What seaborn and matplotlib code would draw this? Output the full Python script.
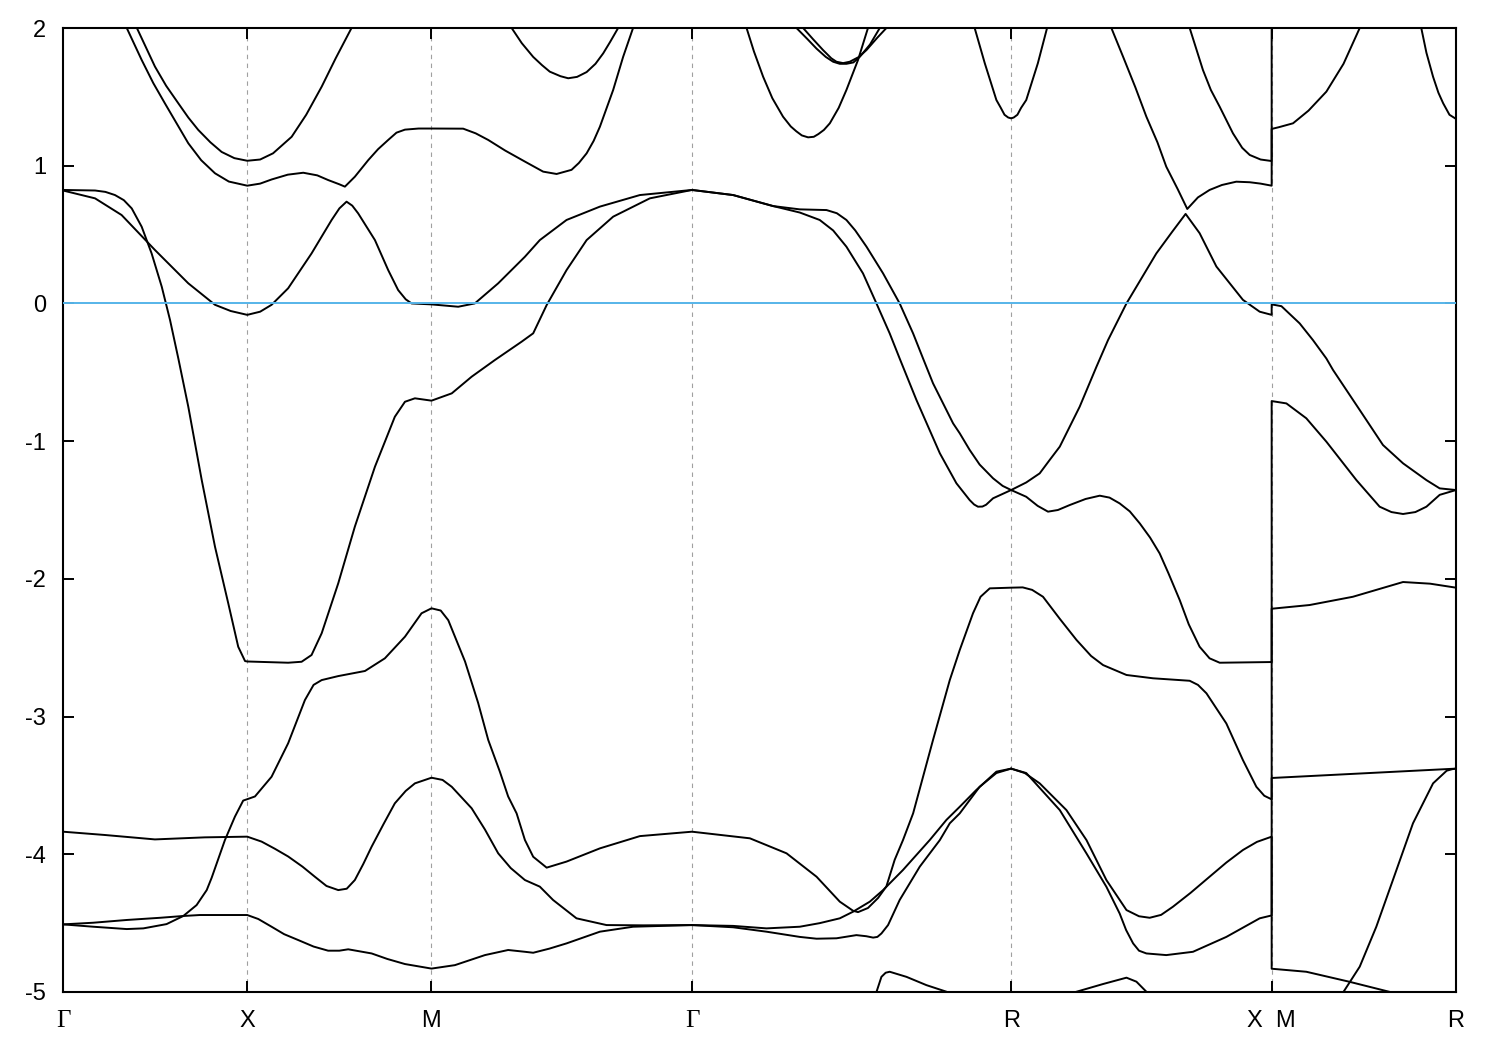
import numpy as np
import pandas as pd
import matplotlib
matplotlib.use("Agg")
import matplotlib.pyplot as plt
import seaborn as sns

# ---------------- high-symmetry path ----------------
kpath_labels = ["Γ", "X", "M", "Γ", "R", "X  M", "R"]
kpath_pos = [0.0, 1.0, 2.0, 3.414, 5.146, 6.560, 7.5605]
energy_ticks = [2, 1, 0, -1, -2, -3, -4, -5]
fermi_level = 0.0

# ---------------- band curves (k, E in eV) ----------------
b01_k = [0.401, 0.45, 0.499, 0.56, 0.626, 0.68, 0.734, 0.80, 0.861, 0.93, 1.0, 1.07, 1.14, 1.241, 1.32, 1.404, 1.48, 1.566]
b01_e = [2.0, 1.86, 1.72, 1.58, 1.453, 1.35, 1.26, 1.17, 1.10, 1.055, 1.036, 1.045, 1.09, 1.21, 1.37, 1.574, 1.78, 2.0]

b02_k = [0.346, 0.427, 0.49, 0.553, 0.62, 0.680, 0.75, 0.825, 0.9, 1.0, 1.07, 1.132, 1.22, 1.304, 1.38, 1.439, 1.50, 1.530,
         1.584, 1.657, 1.71, 1.765, 1.81, 1.856, 1.93, 2.0, 2.172, 2.24, 2.308, 2.40, 2.507, 2.606, 2.679, 2.760, 2.80, 2.842,
         2.88, 2.914, 2.986, 3.040, 3.094]
b02_e = [2.0, 1.768, 1.60, 1.453, 1.30, 1.163, 1.04, 0.945, 0.885, 0.855, 0.87, 0.90, 0.935, 0.949, 0.93, 0.896, 0.865, 0.848,
         0.92, 1.041, 1.12, 1.187, 1.24, 1.262, 1.27, 1.27, 1.269, 1.235, 1.187, 1.11, 1.03, 0.957, 0.94, 0.97, 1.02, 1.09,
         1.18, 1.283, 1.55, 1.79, 2.0]

b03_k = [2.435, 2.49, 2.552, 2.60, 2.642, 2.70, 2.742, 2.79, 2.842, 2.89, 2.932, 2.97, 3.013]
b03_e = [2.0, 1.89, 1.79, 1.73, 1.683, 1.65, 1.635, 1.645, 1.68, 1.74, 1.816, 1.90, 2.0]

b04_k = [3.710, 3.75, 3.800, 3.85, 3.908, 3.95, 3.98, 4.01, 4.044, 4.075, 4.10, 4.13, 4.162, 4.21, 4.252, 4.315, 4.369]
b04_e = [2.0, 1.83, 1.646, 1.49, 1.356, 1.285, 1.25, 1.22, 1.206, 1.21, 1.23, 1.26, 1.308, 1.42, 1.55, 1.768, 2.0]

b05_k = [3.981, 4.04, 4.090, 4.14, 4.180, 4.216, 4.252, 4.29, 4.324, 4.38, 4.433]
b05_e = [2.0, 1.92, 1.85, 1.79, 1.755, 1.74, 1.74, 1.75, 1.79, 1.88, 2.0]

b06_k = [4.017, 4.07, 4.125, 4.17, 4.198, 4.234, 4.270, 4.32, 4.361, 4.42, 4.469]
b06_e = [2.0, 1.92, 1.84, 1.78, 1.755, 1.745, 1.755, 1.79, 1.84, 1.93, 2.0]

b07_k = [4.948, 5.003, 5.066, 5.09, 5.11, 5.13, 5.146, 5.16, 5.18, 5.20, 5.228, 5.291, 5.341]
b07_e = [2.0, 1.744, 1.477, 1.42, 1.37, 1.35, 1.344, 1.35, 1.37, 1.42, 1.477, 1.744, 2.0]

b08_k = [5.690, 5.754, 5.82, 5.880, 5.94, 5.988, 6.05, 6.102, 6.16, 6.223, 6.29, 6.368, 6.441, 6.50, 6.560,
         6.560, 6.60, 6.676, 6.76, 6.857, 6.95, 7.038]
b08_e = [2.0, 1.79, 1.57, 1.356, 1.17, 0.993, 0.83, 0.686, 0.77, 0.824, 0.86, 0.884, 0.88, 0.87, 0.855,
         1.267, 1.28, 1.308, 1.40, 1.538, 1.74, 2.0]

b09_k = [6.115, 6.187, 6.23, 6.278, 6.350, 6.40, 6.441, 6.50, 6.560, 6.560]
b09_e = [2.0, 1.695, 1.55, 1.428, 1.235, 1.13, 1.078, 1.045, 1.034, 2.1]

b10_k = [7.372, 7.40, 7.436, 7.465, 7.491, 7.525, 7.5605]
b10_e = [2.0, 1.82, 1.646, 1.53, 1.453, 1.37, 1.34]

b11_k = [0.0, 0.174, 0.23, 0.282, 0.33, 0.373, 0.427, 0.481, 0.536, 0.581, 0.626, 0.680, 0.753, 0.825, 0.897, 0.951, 0.988, 1.0,
         1.222, 1.295, 1.349, 1.404, 1.494, 1.584, 1.693, 1.801, 1.856, 1.910, 2.0, 2.110, 2.218, 2.344, 2.489, 2.552,
         2.625, 2.733, 2.842, 2.986, 3.185, 3.414]
b11_e = [0.824, 0.82, 0.81, 0.787, 0.75, 0.69, 0.557, 0.363, 0.121, -0.121, -0.40, -0.75, -1.283, -1.767, -2.178, -2.493, -2.597, -2.60,
         -2.609, -2.602, -2.553, -2.395, -2.032, -1.621, -1.186, -0.823, -0.714, -0.689, -0.706, -0.653, -0.532, -0.411, -0.278, -0.217,
         -0.012, 0.242, 0.46, 0.63, 0.763, 0.824]

b12_k = [0.0, 0.174, 0.318, 0.499, 0.680, 0.825, 0.91, 1.0, 1.07, 1.132, 1.222, 1.349, 1.458, 1.50, 1.539, 1.57, 1.602, 1.693, 1.765,
         1.819, 1.86, 1.892, 2.0, 2.145, 2.235, 2.362, 2.507, 2.588, 2.733, 2.914, 3.131, 3.414]
b12_e = [0.82, 0.763, 0.642, 0.388, 0.146, -0.01, -0.055, -0.083, -0.06, -0.01, 0.11, 0.363, 0.606, 0.69, 0.739, 0.71, 0.654, 0.46, 0.242,
         0.097, 0.03, 0.0, -0.007, -0.024, 0.0, 0.146, 0.339, 0.46, 0.606, 0.703, 0.787, 0.824]

b13_k = [3.414, 3.637, 3.854, 3.999, 4.144, 4.20, 4.252, 4.30, 4.361, 4.451, 4.541, 4.614, 4.668, 4.722, 4.831, 4.867, 4.921, 4.975,
         5.048, 5.10, 5.146]
b13_e = [0.824, 0.787, 0.707, 0.683, 0.678, 0.655, 0.606, 0.53, 0.412, 0.218, 0.0, -0.218, -0.40, -0.58, -0.871, -0.943, -1.064, -1.17,
         -1.27, -1.325, -1.355]

b14_k = [3.414, 3.637, 3.854, 3.999, 4.107, 4.18, 4.252, 4.342, 4.415, 4.487, 4.541, 4.632, 4.759, 4.849, 4.921, 4.945, 4.966, 4.99, 5.01,
         5.048, 5.146]
b14_e = [0.824, 0.787, 0.707, 0.66, 0.606, 0.53, 0.412, 0.218, 0.0, -0.218, -0.40, -0.701, -1.088, -1.306, -1.428, -1.46, -1.476, -1.475, -1.462,
         -1.415, -1.355]

b15_k = [5.146, 5.228, 5.301, 5.355, 5.410, 5.518, 5.609, 5.672, 5.772, 5.934, 6.02, 6.093, 6.169, 6.260, 6.404, 6.495,
         6.560, 6.560, 6.613, 6.712, 6.784, 6.857, 6.893, 7.038, 7.164, 7.273, 7.400, 7.472, 7.5605]
b15_e = [-1.355, -1.30, -1.234, -1.137, -1.04, -0.75, -0.46, -0.266, 0.0, 0.363, 0.52, 0.65, 0.51, 0.268, 0.026, -0.06,
         -0.083, -0.007, -0.02, -0.145, -0.266, -0.40, -0.483, -0.774, -1.028, -1.161, -1.283, -1.343, -1.355]

b16_k = [5.146, 5.228, 5.29, 5.346, 5.40, 5.464, 5.55, 5.627, 5.68, 5.735, 5.79, 5.844, 5.90, 5.952, 6.00, 6.061, 6.11, 6.169, 6.223,
         6.278, 6.560, 6.560, 6.640, 6.748, 6.857, 7.020, 7.146, 7.21, 7.273, 7.34, 7.400, 7.472, 7.5605]
b16_e = [-1.355, -1.404, -1.47, -1.512, -1.50, -1.464, -1.42, -1.396, -1.41, -1.452, -1.51, -1.597, -1.70, -1.815, -1.96, -2.154, -2.33, -2.493, -2.577,
         -2.609, -2.604, -0.709, -0.726, -0.834, -1.004, -1.283, -1.476, -1.515, -1.529, -1.515, -1.476, -1.39, -1.355]

b17_k = [0.0, 0.164, 0.346, 0.436, 0.562, 0.653, 0.725, 0.780, 0.807, 0.879, 0.933, 0.978, 1.0, 1.042, 1.132, 1.222, 1.313,
         1.36, 1.404, 1.494, 1.639, 1.747, 1.856, 1.946, 2.0, 2.05, 2.091, 2.182, 2.253, 2.308, 2.371, 2.416, 2.462, 2.507, 2.552, 2.625,
         2.733, 2.914, 3.131, 3.414, 3.728, 3.927, 4.090, 4.216, 4.288, 4.315, 4.369, 4.424, 4.469, 4.514, 4.559, 4.614, 4.722,
         4.813, 4.867, 4.939, 4.98, 5.030, 5.146, 5.209, 5.26, 5.319, 5.41, 5.501, 5.58, 5.645, 5.772, 5.916, 6.115, 6.16, 6.206, 6.314, 6.404, 6.477,
         6.52, 6.560, 6.560, 6.766, 7.001, 7.273, 7.42, 7.5605]
b17_e = [-4.509, -4.526, -4.543, -4.538, -4.507, -4.448, -4.369, -4.26, -4.17, -3.896, -3.727, -3.61, -3.60, -3.58, -3.437, -3.194, -2.88,
         -2.77, -2.735, -2.706, -2.669, -2.577, -2.42, -2.25, -2.214, -2.23, -2.30, -2.60, -2.90, -3.17, -3.40, -3.58, -3.703, -3.896, -4.018, -4.097,
         -4.053, -3.957, -3.868, -3.836, -3.884, -3.993, -4.163, -4.344, -4.41, -4.42, -4.39, -4.317, -4.233, -4.04, -3.897, -3.703, -3.17,
         -2.735, -2.517, -2.25, -2.13, -2.069, -2.064, -2.062, -2.08, -2.13, -2.29, -2.444, -2.56, -2.626, -2.698, -2.722, -2.74, -2.77, -2.831, -3.05, -3.316, -3.51,
         -3.575, -3.601, -2.217, -2.19, -2.13, -2.023, -2.035, -2.064]

b18_k = [0.0, 0.164, 0.346, 0.528, 0.653, 0.743, 1.0, 1.06, 1.132, 1.20, 1.277, 1.36, 1.439, 1.50, 1.548, 1.675, 1.76, 1.856,
         2.0, 2.127, 2.290, 2.416, 2.507, 2.552, 2.64, 2.733, 2.914, 3.094, 3.414]
b18_e = [-4.509, -4.497, -4.477, -4.461, -4.448, -4.441, -4.441, -4.47, -4.526, -4.58, -4.623, -4.67, -4.70, -4.70, -4.69, -4.72, -4.76, -4.797,
         -4.83, -4.805, -4.732, -4.695, -4.708, -4.715, -4.685, -4.647, -4.562, -4.526, -4.514]

b19_k = [0.0, 0.228, 0.499, 0.770, 1.0, 1.078, 1.15, 1.222, 1.30, 1.367, 1.43, 1.494, 1.54, 1.584, 1.63, 1.675, 1.74, 1.801,
         1.86, 1.910, 2.0, 2.06, 2.110, 2.218, 2.29, 2.362, 2.43, 2.507, 2.588, 2.660, 2.787, 2.950, 3.15, 3.414]
b19_e = [-3.836, -3.86, -3.892, -3.877, -3.872, -3.908, -3.96, -4.016, -4.09, -4.163, -4.23, -4.26, -4.25, -4.187, -4.07, -3.945, -3.78, -3.63,
         -3.54, -3.485, -3.444, -3.46, -3.51, -3.666, -3.82, -3.993, -4.10, -4.187, -4.235, -4.332, -4.465, -4.514, -4.516, -4.514]

b20_k = [3.414, 3.637, 3.818, 3.999, 4.107, 4.216, 4.288, 4.379, 4.451, 4.559, 4.704, 4.795, 4.867, 4.957, 5.066, 5.146]
b20_e = [-4.514, -4.52, -4.538, -4.526, -4.50, -4.465, -4.417, -4.344, -4.26, -4.114, -3.897, -3.75, -3.655, -3.533, -3.40, -3.378]

b21_k = [3.414, 3.637, 3.818, 3.999, 4.090, 4.198, 4.306, 4.36, 4.397, 4.42, 4.442, 4.478, 4.541, 4.650, 4.759, 4.813, 4.867,
         4.975, 5.066, 5.146]
b21_e = [-4.514, -4.53, -4.562, -4.60, -4.613, -4.61, -4.587, -4.595, -4.605, -4.60, -4.575, -4.514, -4.332, -4.09, -3.897, -3.775, -3.703,
         -3.51, -3.41, -3.378]

b22_k = [5.146, 5.22, 5.301, 5.446, 5.555, 5.663, 5.772, 5.84, 5.898, 5.96, 6.024, 6.12, 6.223, 6.314, 6.404, 6.48, 6.560,
         6.560, 6.748, 6.983, 7.209, 7.30]
b22_e = [-3.378, -3.41, -3.485, -3.679, -3.897, -4.187, -4.405, -4.45, -4.461, -4.44, -4.381, -4.28, -4.163, -4.06, -3.969, -3.91, -3.872,
         -4.831, -4.853, -4.926, -5.002, -5.04]

b23_k = [5.146, 5.228, 5.410, 5.555, 5.663, 5.735, 5.77, 5.808, 5.84, 5.880, 5.988, 6.133, 6.314, 6.495, 6.560, 6.560, 7.5605]
b23_e = [-3.378, -3.41, -3.679, -3.994, -4.236, -4.43, -4.55, -4.647, -4.70, -4.72, -4.732, -4.708, -4.60, -4.465, -4.444, -3.446, -3.378]

b24_k = [4.405, 4.415, 4.442, 4.465, 4.487, 4.578, 4.686, 4.795, 4.84]
b24_e = [-5.04, -5.0, -4.89, -4.86, -4.853, -4.89, -4.95, -4.998, -5.03]

b25_k = [5.45, 5.483, 5.645, 5.772, 5.826, 5.880, 5.895]
b25_e = [-5.02, -5.005, -4.942, -4.896, -4.925, -4.998, -5.03]

b26_k = [6.93, 6.947, 7.038, 7.128, 7.218, 7.327, 7.436, 7.510, 7.540, 7.5605]
b26_e = [-5.04, -5.005, -4.816, -4.526, -4.187, -3.775, -3.485, -3.393, -3.382, -3.378]

band_k = [b01_k, b02_k, b03_k, b04_k, b05_k, b06_k, b07_k, b08_k, b09_k, b10_k, b11_k, b12_k, b13_k,
          b14_k, b15_k, b16_k, b17_k, b18_k, b19_k, b20_k, b21_k, b22_k, b23_k, b24_k, b25_k, b26_k]
band_e = [b01_e, b02_e, b03_e, b04_e, b05_e, b06_e, b07_e, b08_e, b09_e, b10_e, b11_e, b12_e, b13_e,
          b14_e, b15_e, b16_e, b17_e, b18_e, b19_e, b20_e, b21_e, b22_e, b23_e, b24_e, b25_e, b26_e]

rows = []
for i, (ks, es) in enumerate(zip(band_k, band_e)):
    assert len(ks) == len(es), (i, len(ks), len(es))
    for j, (kk, ee) in enumerate(zip(ks, es)):
        rows.append({"curve": i, "order": j, "k": kk, "E": ee})
df = pd.DataFrame(rows)

# ---------------- style ----------------
sns.set_style("ticks")
plt.rcParams["font.family"] = ["Liberation Sans", "DejaVu Sans"]
plt.rcParams["axes.unicode_minus"] = False

fig = plt.figure(figsize=(15, 10.5), dpi=100)
ax = fig.add_axes([63 / 1500, 1 - 992 / 1050, (1456 - 63) / 1500, (992 - 28) / 1050])

# dotted verticals at high-symmetry points
for xp in kpath_pos[1:-1]:
    ax.axvline(xp, color="#a0a0a0", lw=0.8, ls=(0, (4, 4)), zorder=0.5)

sns.lineplot(data=df, x="k", y="E", units="curve", estimator=None, sort=False,
             color="black", lw=1.4, ax=ax, legend=False, zorder=2)

ax.axhline(fermi_level, color="#56b4e9", lw=1.4, zorder=3)

ax.set_xlim(kpath_pos[0], kpath_pos[-1])
ax.set_ylim(-5, 2)
ax.set_xlabel("")
ax.set_ylabel("")

ax.set_xticks(kpath_pos)
ax.set_xticklabels(kpath_labels)
ax.set_yticks(energy_ticks)
ax.set_yticklabels([str(v) for v in energy_ticks])

for sp in ax.spines.values():
    sp.set_visible(True)
    sp.set_linewidth(1.5)
    sp.set_color("black")

ax.tick_params(axis="both", which="major", direction="in", length=8, width=1.4,
               top=True, right=True, labelsize=17, colors="black")
ax.tick_params(axis="x", pad=13)
ax.tick_params(axis="y", pad=12)

for lab in ax.get_xticklabels():
    if lab.get_text() == "Γ":
        lab.set_fontfamily(["Liberation Serif", "DejaVu Serif"])
        lab.set_fontsize(18)

fig.savefig("out.png", dpi=100)
